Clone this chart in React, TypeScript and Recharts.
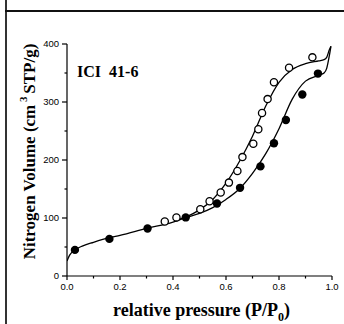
// N2 isotherm, ICI 41-6

import React from 'react';
import { ComposedChart, Line, Scatter, XAxis, YAxis, ReferenceDot } from 'recharts';

// measured points: adsorption (filled) and desorption (open)
const adsX = [0.03, 0.16, 0.304, 0.448, 0.566, 0.653, 0.73, 0.781, 0.826, 0.888, 0.947];
const adsY = [45, 64, 82, 101, 125, 152, 189, 229, 269, 313, 349];
const desX = [0.369, 0.413, 0.503, 0.538, 0.58, 0.611, 0.643, 0.662, 0.703, 0.722, 0.736, 0.757, 0.781, 0.838, 0.926];
const desY = [94, 101, 115, 129, 144, 161, 181, 205, 228, 253, 281, 305, 334, 359, 377];

// fitted curves
const fitAdsX = [0, 0.01, 0.03, 0.06, 0.1, 0.16, 0.2, 0.3, 0.4, 0.45, 0.5, 0.55, 0.6, 0.65, 0.7, 0.75, 0.8, 0.85, 0.9, 0.95, 0.97, 0.98, 0.99, 0.996];
const fitAdsY = [26, 36, 45, 52, 58, 66, 70, 82, 93, 101, 108, 118, 132, 150, 177, 211, 254, 305, 336, 346, 350, 358, 380, 396];
const fitDesX = [0.42, 0.45, 0.5, 0.55, 0.6, 0.65, 0.7, 0.75, 0.8, 0.85, 0.9, 0.95, 0.97, 0.98, 0.99, 0.996];
const fitDesY = [97, 102, 114, 132, 160, 197, 241, 293, 334, 356, 366, 371, 373, 377, 390, 396];

const xTicks = [0, 0.1, 0.2, 0.3, 0.4, 0.5, 0.6, 0.7, 0.8, 0.9, 1.0];
const xTickLabels = ['0.0', '', '0.2', '', '0.4', '', '0.6', '', '0.8', '', '1.0'];
const yTicks = [0, 50, 100, 150, 200, 250, 300, 350, 400];
const yTickLabels = ['0', '', '100', '', '200', '', '300', '', '400'];

const sampleName = 'ICI  41-6';

const toPoints = (xs: number[], ys: number[]) => xs.map((x, i) => ({ x, y: ys[i] }));

const serif = '"Liberation Serif", "Times New Roman", serif';
const sans = '"Liberation Sans", Arial, sans-serif';

const XTick = (props: any) => {
  const { x, y, payload } = props;
  const i = xTicks.indexOf(payload.value);
  const label = xTickLabels[i];
  return (
    <g>
      <line x1={x} y1={y} x2={x} y2={y + (label ? 4 : 2.5)} stroke="#000" strokeWidth={1.2} />
      {label && (
        <text x={x} y={y + 14} textAnchor="middle" fontFamily={sans} fontSize={9.5} fill="#000">
          {label}
        </text>
      )}
    </g>
  );
};

const YTick = (props: any) => {
  const { x, y, payload } = props;
  const i = yTicks.indexOf(payload.value);
  const label = yTickLabels[i];
  return (
    <g>
      <line x1={x} y1={y} x2={x - (label ? 5 : 2.5)} y2={y} stroke="#000" strokeWidth={1.2} />
      {label && (
        <text x={x - 8} y={y + 3.3} textAnchor="end" fontFamily={sans} fontSize={9.5} fill="#000">
          {label}
        </text>
      )}
    </g>
  );
};

const Filled = (props: any) => <circle cx={props.cx} cy={props.cy} r={4.2} fill="#000" />;
const Open = (props: any) => (
  <circle cx={props.cx} cy={props.cy} r={3.6} fill="#fff" stroke="#000" strokeWidth={1.3} />
);

const App = () => {
  return (
    <div style={{ position: 'absolute', left: 0, top: 0, width: 344, height: 324, background: '#fff', overflow: 'hidden' }}>
      <div style={{ position: 'absolute', left: 5, top: 0, width: 2, height: 324, background: '#333' }} />
      <div style={{ position: 'absolute', left: 5, top: 10, width: 339, height: 2, background: '#111' }} />
      <div style={{ position: 'absolute', left: 0, top: 0 }}>
        <ComposedChart width={344} height={324} margin={{ top: 44, right: 12, bottom: 0, left: 0 }}>
          <XAxis
            type="number"
            dataKey="x"
            domain={[0, 1]}
            ticks={xTicks}
            interval={0}
            height={48}
            tickSize={0}
            tickMargin={0}
            tickLine={false}
            tick={<XTick />}
            axisLine={{ stroke: '#000', strokeWidth: 1.2 }}
            allowDataOverflow
            label={{
              content: ({ viewBox }: any) => (
                <text x={viewBox.x + 46} y={viewBox.y + 40} fontFamily={serif} fontWeight="bold" fontSize={18} fill="#000">
                  relative pressure (P/P
                  <tspan fontSize={12} dy={5}>0</tspan>
                  <tspan dy={-5}>)</tspan>
                </text>
              ),
            }}
          />
          <YAxis
            type="number"
            dataKey="y"
            domain={[0, 400]}
            ticks={yTicks}
            interval={0}
            width={67}
            tickSize={0}
            tickMargin={0}
            tickLine={false}
            tick={<YTick />}
            axisLine={{ stroke: '#000', strokeWidth: 1.2 }}
            allowDataOverflow
            label={{
              content: ({ viewBox }: any) => {
                const cx = viewBox.x + 29;
                const cy = viewBox.y + 107.5;
                return (
                  <text
                    x={cx}
                    y={cy}
                    transform={`rotate(-90 ${cx} ${cy})`}
                    textAnchor="middle"
                    dominantBaseline="central"
                    fontFamily={serif}
                    fontWeight="bold"
                    fontSize={17}
                    fill="#000"
                  >
                    Nitrogen Volume (cm
                    <tspan fontSize={11} dy={-6}> 3 </tspan>
                    <tspan dy={6}>STP/g)</tspan>
                  </text>
                );
              },
            }}
          />
          <Line
            data={toPoints(fitAdsX, fitAdsY)}
            dataKey="y"
            type="monotone"
            stroke="#000"
            strokeWidth={1.3}
            dot={false}
            activeDot={false}
            isAnimationActive={false}
          />
          <Line
            data={toPoints(fitDesX, fitDesY)}
            dataKey="y"
            type="monotone"
            stroke="#000"
            strokeWidth={1.3}
            dot={false}
            activeDot={false}
            isAnimationActive={false}
          />
          <Scatter data={toPoints(desX, desY)} shape={<Open />} isAnimationActive={false} />
          <Scatter data={toPoints(adsX, adsY)} shape={<Filled />} isAnimationActive={false} />
          <ReferenceDot
            x={0.038}
            y={343}
            r={0}
            fill="none"
            stroke="none"
            ifOverflow="visible"
            label={{
              content: ({ viewBox }: any) => (
                <text x={viewBox.x} y={viewBox.y} fontFamily={serif} fontWeight="bold" fontSize={16} fill="#000" style={{ whiteSpace: 'pre' }}>
                  {sampleName}
                </text>
              ),
            }}
          />
        </ComposedChart>
      </div>
    </div>
  );
};

export default App;
